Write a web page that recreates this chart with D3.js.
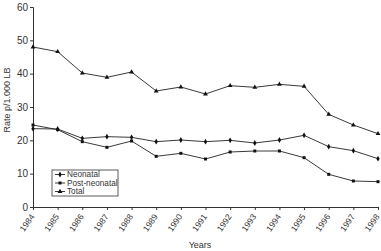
<!DOCTYPE html>
<html>
<head>
<style>
  body { margin: 0; background: #fff; }
  text { font-family: "Liberation Sans", Arial, sans-serif; fill: #333; }
</style>
</head>
<body>
<svg width="381" height="251"></svg>
<script src="https://d3js.org/d3.v7.min.js"></script>
<script>

  var years = [1984, 1985, 1986, 1987, 1988, 1989, 1990, 1991, 1992, 1993, 1994, 1995, 1996, 1997, 1998];
  var neonatal = [23.5, 23.4, 20.6, 21.1, 20.9, 19.6, 20.1, 19.6, 20.0, 19.2, 20.1, 21.5, 18.1, 16.9, 14.5];
  var postNeonatal = [24.6, 23.2, 19.6, 17.9, 19.8, 15.2, 16.1, 14.4, 16.5, 16.8, 16.8, 14.8, 9.8, 7.8, 7.6];
  var total = [48.0, 46.6, 40.2, 38.9, 40.5, 34.8, 36.0, 33.9, 36.4, 35.9, 36.8, 36.2, 27.8, 24.6, 22.0];
  var yTicks = [0, 10, 20, 30, 40, 50, 60];

  var series = [
    {name: "Neonatal", values: neonatal, symbol: d3.symbolDiamond, size: 10},
    {name: "Post-neonatal", values: postNeonatal, symbol: d3.symbolSquare, size: 9},
    {name: "Total", values: total, symbol: d3.symbolTriangle, size: 10}
  ];

  var svg = d3.select("svg"),
    margin = {top: 7, right: 3, bottom: 44, left: 33},
    width = +svg.attr("width") - margin.left - margin.right,
    height = +svg.attr("height") - margin.top - margin.bottom,
    g = svg.append("g").attr("transform", "translate(" + margin.left + "," + margin.top + ")");

  var x = d3.scaleLinear().domain([1984, 1998]).range([0, width]);
  var y = d3.scaleLinear().domain([0, 60]).range([height, 0]);

  var xAxis = g.append("g")
    .attr("transform", "translate(0," + height + ")")
    .call(d3.axisBottom(x).tickValues(years).tickFormat(d3.format("d")).tickSize(3));
  xAxis.selectAll("text")
    .attr("font-size", 8.5)
    .attr("text-anchor", "end")
    .attr("x", 0).attr("y", 0)
    .attr("dy", "0.35em")
    .attr("transform", "translate(-1,8) rotate(-55)");

  var yAxis = g.append("g")
    .call(d3.axisLeft(y).tickValues(yTicks).tickSize(3).tickPadding(2));
  yAxis.selectAll("text").attr("font-size", 10);

  svg.selectAll(".domain, .tick line").attr("stroke", "#333");
  svg.selectAll(".tick text").attr("fill", "#333");

  var line = d3.line()
    .x(function (d, i) { return x(years[i]); })
    .y(function (d) { return y(d); });

  series.forEach(function (s) {
    g.append("path")
      .datum(s.values)
      .attr("fill", "none")
      .attr("stroke", "#222")
      .attr("stroke-width", 0.9)
      .attr("d", line);

    g.selectAll(null)
      .data(s.values)
      .enter().append("path")
      .attr("transform", function (d, i) { return "translate(" + x(years[i]) + "," + y(d) + ")"; })
      .attr("d", d3.symbol().type(s.symbol).size(s.size))
      .attr("fill", "#111");
  });

  // legend
  var legend = svg.append("g").attr("transform", "translate(52,170)");
  legend.append("rect")
    .attr("width", 66).attr("height", 26)
    .attr("fill", "#fff").attr("stroke", "#333").attr("stroke-width", 0.8);
  series.forEach(function (s, i) {
    var row = legend.append("g").attr("transform", "translate(0," + (4.5 + i * 8.5) + ")");
    row.append("line").attr("x1", 3).attr("x2", 13).attr("stroke", "#222").attr("stroke-width", 0.9);
    row.append("path").attr("transform", "translate(8,0)")
      .attr("d", d3.symbol().type(s.symbol).size(s.size)).attr("fill", "#111");
    row.append("text").attr("x", 15).attr("dy", "0.35em").attr("font-size", 8.2).text(s.name);
  });

  svg.append("text")
    .attr("x", 200).attr("y", 248)
    .attr("text-anchor", "middle").attr("font-size", 9)
    .text("Years");

  svg.append("text")
    .attr("transform", "translate(10,100) rotate(-90)")
    .attr("text-anchor", "middle").attr("font-size", 9)
    .text("Rate p/1.000 LB");

</script>
</body>
</html>
